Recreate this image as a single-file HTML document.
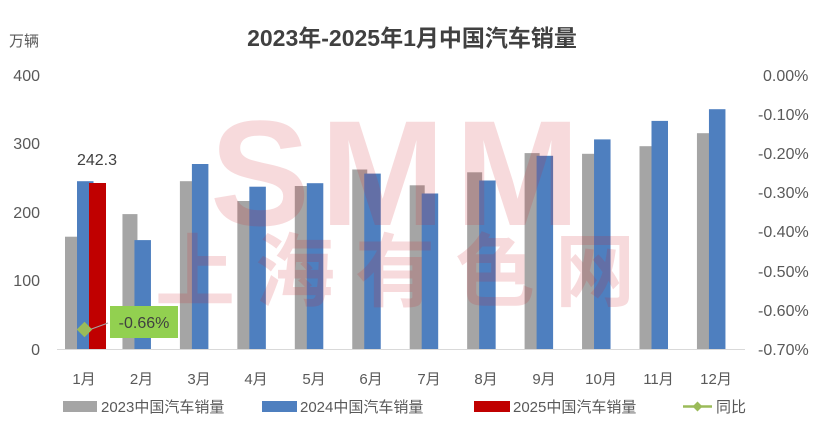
<!DOCTYPE html>
<html><head><meta charset="utf-8"><style>
body{margin:0;background:#fff}
svg text{font-family:"Liberation Sans","Noto Sans CJK SC",sans-serif;fill:#595959}
</style></head><body>
<svg width="825" height="424" viewBox="0 0 825 424" xmlns="http://www.w3.org/2000/svg">
<rect width="825" height="424" fill="#fff"/>
<text x="412" y="46" text-anchor="middle" font-size="23" font-weight="bold" style="fill:#404040">2023年-2025年1月中国汽车销量</text>
<text x="9" y="46" font-size="15">万辆</text>
<g font-size="16" text-anchor="end">
<text x="40" y="81">400</text><text x="40" y="149">300</text><text x="40" y="218">200</text><text x="40" y="286">100</text><text x="40" y="355">0</text>
</g>
<g font-size="16">
<text x="763" y="81">0.00%</text><text x="758" y="120">-0.10%</text><text x="758" y="159">-0.20%</text><text x="758" y="198">-0.30%</text><text x="758" y="237">-0.40%</text><text x="758" y="277">-0.50%</text><text x="758" y="316">-0.60%</text><text x="758" y="355">-0.70%</text>
</g>
<g fill="#a5a5a5">
<rect x="65" y="236.7" width="15" height="112.3"/>
<rect x="122.45" y="214.1" width="15" height="134.9"/>
<rect x="179.9" y="181.2" width="15" height="167.8"/>
<rect x="237.35" y="201" width="15" height="148"/>
<rect x="294.8" y="186" width="15" height="163"/>
<rect x="352.25" y="169.5" width="15" height="179.5"/>
<rect x="409.7" y="185.3" width="15" height="163.7"/>
<rect x="467.15" y="172.3" width="15" height="176.7"/>
<rect x="524.6" y="153.1" width="15" height="195.9"/>
<rect x="582.05" y="153.8" width="15" height="195.2"/>
<rect x="639.5" y="146.2" width="15" height="202.8"/>
<rect x="696.95" y="133.2" width="15" height="215.8"/>
</g>
<g fill="#4e7fbf">
<rect x="77" y="181.2" width="16.5" height="167.8"/>
<rect x="134.45" y="240.1" width="16.5" height="108.9"/>
<rect x="191.9" y="164" width="16.5" height="185"/>
<rect x="249.35" y="186.7" width="16.5" height="162.3"/>
<rect x="306.8" y="183.2" width="16.5" height="165.8"/>
<rect x="364.25" y="173.6" width="16.5" height="175.4"/>
<rect x="421.7" y="193.5" width="16.5" height="155.5"/>
<rect x="479.15" y="180.5" width="16.5" height="168.5"/>
<rect x="536.6" y="155.8" width="16.5" height="193.2"/>
<rect x="594.05" y="139.4" width="16.5" height="209.6"/>
<rect x="651.5" y="120.9" width="16.5" height="228.1"/>
<rect x="708.95" y="109.2" width="16.5" height="239.8"/>
</g>
<rect x="89" y="183" width="17" height="166" fill="#c00000"/>
<!-- watermark -->
<g opacity="0.16">
<text x="400" y="225" text-anchor="middle" font-size="150" font-weight="bold" style="fill:#d0202a" letter-spacing="10">SMM</text>
<text x="405" y="300" text-anchor="middle" font-size="80" font-weight="bold" style="fill:#d0202a" letter-spacing="20">上海有色网</text>
</g>
<line x1="57" y1="349.5" x2="745" y2="349.5" stroke="#d9d9d9" stroke-width="1"/>
<g font-size="15" text-anchor="middle">
<text x="84" y="384">1月</text><text x="141.5" y="384">2月</text><text x="199" y="384">3月</text><text x="256" y="384">4月</text><text x="314" y="384">5月</text><text x="371" y="384">6月</text><text x="429" y="384">7月</text><text x="486" y="384">8月</text><text x="544" y="384">9月</text><text x="601" y="384">10月</text><text x="658.5" y="384">11月</text><text x="716" y="384">12月</text>
</g>
<text x="97" y="165" text-anchor="middle" font-size="16" style="fill:#404040">242.3</text>
<line x1="86" y1="331" x2="108" y2="323" stroke="#a5a5a5" stroke-width="1"/>
<rect x="110" y="306" width="68" height="32" fill="#92d050"/>
<text x="144" y="328" text-anchor="middle" font-size="16" style="fill:#404040">-0.66%</text>
<rect x="79" y="324" width="11" height="11" fill="#9bbb59" transform="rotate(45 84.5 329.5)"/>
<!-- legend -->
<rect x="63" y="401" width="34" height="11" fill="#a5a5a5"/>
<text x="101" y="412" font-size="15">2023中国汽车销量</text>
<rect x="262" y="401" width="35" height="11" fill="#4e7fbf"/>
<text x="300" y="412" font-size="15">2024中国汽车销量</text>
<rect x="474" y="401" width="36" height="11" fill="#c00000"/>
<text x="513" y="412" font-size="15">2025中国汽车销量</text>
<line x1="683" y1="406.5" x2="712" y2="406.5" stroke="#9bbb59" stroke-width="2.5"/>
<rect x="694" y="403" width="7" height="7" fill="#9bbb59" transform="rotate(45 697.5 406.5)"/>
<text x="716" y="412" font-size="15">同比</text>
</svg>
</body></html>
